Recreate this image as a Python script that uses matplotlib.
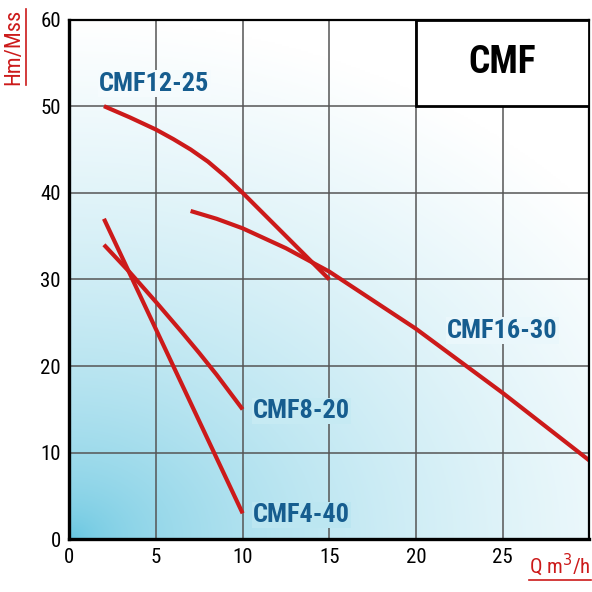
import numpy as np
import matplotlib
matplotlib.use("Agg")
import matplotlib.pyplot as plt
from matplotlib.patches import Rectangle
from matplotlib.lines import Line2D

plt.rcParams['font.family'] = ['Liberation Sans Narrow', 'Roboto Condensed', 'Liberation Sans', 'DejaVu Sans']

# pump curves (Q m3/h, H m)
q_12_25 = [2, 3.5, 5, 6, 7, 8, 9, 10, 11, 12, 13, 14, 15]
h_12_25 = [50, 48.7, 47.3, 46.2, 45.0, 43.6, 41.9, 40, 38, 36, 34, 32, 30]
q_16_30 = [7, 8.5, 10, 12.5, 15, 17.5, 20, 22.5, 25, 27.5, 30]
h_16_30 = [37.9, 37, 35.9, 33.6, 30.9, 27.6, 24.3, 20.6, 16.9, 13, 9.1]
q_8_20 = [2, 3.5, 5, 6.5, 7.5, 8.5, 10]
h_8_20 = [34, 30.8, 27.4, 23.9, 21.5, 19.0, 15]
q_4_40 = [2, 6, 10]
h_4_40 = [37, 20, 3]

names = ['CMF12-25', 'CMF16-30', 'CMF8-20', 'CMF4-40']
label_pos = [(4.9, 52.6), (25.0, 24.1), (13.4, 14.8), (13.4, 2.8)]

xticks = [0, 5, 10, 15, 20, 25]
yticks = [0, 10, 20, 30, 40, 50, 60]

red = '#cc1a1a'
blue = '#165d8f'
c0 = np.array([0x5c, 0xc2, 0xde]) / 255.0


def shade(x, y):
    # blue in lower-left corner fading to white
    d = np.sqrt((x / 30.0 / 1.3) ** 2 + (y / 60.0) ** 2)
    t = np.clip(d, 0, 1) ** 0.5
    t = np.asarray(t)[..., None]
    return c0 * (1 - t) + t


fig = plt.figure(figsize=(5.92, 5.92), dpi=100)
ax = fig.add_axes([0.117, 0.089, 0.8785, 0.878])

gx, gy = np.meshgrid(np.linspace(0, 30, 300), np.linspace(0, 60, 300))
ax.imshow(shade(gx, gy), extent=[0, 30, 0, 60], origin='lower', aspect='auto', zorder=0)

ax.set_xlim(0, 30)
ax.set_ylim(0, 60)
ax.set_xticks(xticks)
ax.set_yticks(yticks)
ax.grid(True, color='#555555', lw=1.1)
ax.tick_params(length=0, labelsize=15, pad=6)
for s in ['left', 'bottom']:
    ax.spines[s].set_linewidth(2.4)
for s in ['top', 'right']:
    ax.spines[s].set_linewidth(1.6)

for q, h in [(q_12_25, h_12_25), (q_16_30, h_16_30), (q_8_20, h_8_20), (q_4_40, h_4_40)]:
    ax.plot(q, h, color=red, lw=3.0, solid_capstyle='butt', solid_joinstyle='round', zorder=2)

for name, (lx, ly) in zip(names, label_pos):
    ax.text(lx, ly, name, color=blue, fontsize=19, fontweight='bold', ha='center', va='center',
            zorder=3, bbox=dict(facecolor=tuple(shade(lx, ly)), edgecolor='none', pad=1.0))

ax.add_patch(Rectangle((20, 50), 10, 10, facecolor='white', edgecolor='black', lw=2, zorder=4))
ax.text(25, 55, 'CMF', fontsize=27, fontweight='bold', ha='center', va='center', zorder=5)

ylab = fig.text(0.024, 0.985, 'Hm/Mss', color=red, fontsize=16, rotation=90, ha='center', va='top')
xlab = fig.text(0.998, 0.046, 'Q m$^3$/h', color=red, fontsize=15, ha='right', va='center')

# underline the two axis titles
fig.canvas.draw()
r = fig.canvas.get_renderer()
inv = fig.transFigure.inverted()
bb = inv.transform_bbox(ylab.get_window_extent(r))
fig.add_artist(Line2D([bb.x1 + 0.003, bb.x1 + 0.003], [bb.y0, bb.y1], color=red, lw=1.2))
bb = inv.transform_bbox(xlab.get_window_extent(r))
fig.add_artist(Line2D([bb.x0, bb.x1], [bb.y0 - 0.003, bb.y0 - 0.003], color=red, lw=1.2))

fig.savefig('out.png', dpi=100)
